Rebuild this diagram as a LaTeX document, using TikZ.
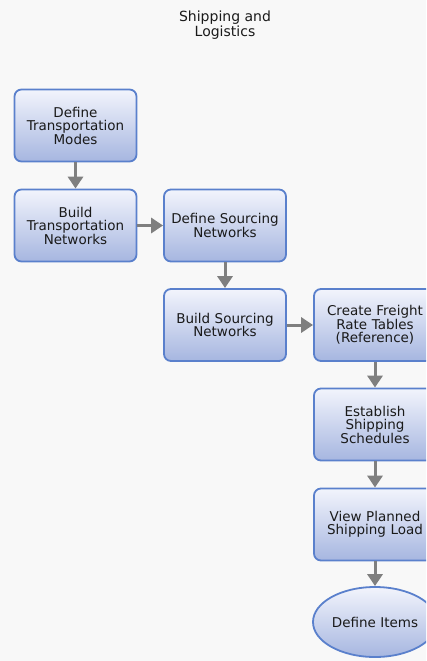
\documentclass[tikz,border=0pt]{standalone}
\usepackage{fontspec}
\setmainfont{DejaVu Sans}
\usetikzlibrary{arrows.meta,shapes.geometric}
\definecolor{bgc}{HTML}{F8F8F8}
\definecolor{edgec}{HTML}{5A80CC}
\definecolor{topc}{HTML}{F2F4FC}
\definecolor{botc}{HTML}{A6B6E0}
\definecolor{arrc}{HTML}{7F7F7F}
\definecolor{txtc}{HTML}{1A1A1A}
\tikzset{
  stepbox/.style={draw=edgec, line width=1.8pt, rounded corners=7pt,
    top color=topc, bottom color=botc, minimum width=122pt, minimum height=72pt,
    text width=120pt, align=center, inner sep=0pt, text=txtc,
    font=\fontsize{13.5}{13.5}\selectfont},
  endoval/.style={ellipse, draw=edgec, line width=1.8pt,
    top color=topc, bottom color=botc, minimum width=124pt, minimum height=70pt,
    inner sep=0pt, align=center, text=txtc, font=\fontsize{13.5}{13.5}\selectfont},
  flow/.style={draw=arrc, line width=3pt, -{Triangle[width=15pt,length=12pt]}},
}
\begin{document}
\begin{tikzpicture}[x=1pt,y=-1pt]
\fill[bgc] (0,0) rectangle (426,661);
\useasboundingbox (0,0) rectangle (426,661);
\clip (0,0) rectangle (426,661);
\node[align=center, text=txtc, font=\fontsize{14}{15.5}\selectfont] (title) at (225,25) {Shipping and\\Logistics};
\node[stepbox] (a) at (75.5,125.5) {Define\\Transportation\\Modes};
\node[stepbox] (b) at (75.5,225.5) {Build\\Transportation\\Networks};
\node[stepbox] (c) at (225,225.5) {Define Sourcing\\Networks};
\node[stepbox] (d) at (225,325) {Build Sourcing\\Networks};
\node[stepbox] (e) at (375,325) {Create Freight\\Rate Tables\\(Reference)};
\node[stepbox] (f) at (375,424.5) {Establish\\Shipping\\Schedules};
\node[stepbox] (g) at (375,524.5) {View Planned\\Shipping Load};
\node[endoval] (h) at (375,622) {Define Items};
\draw[flow] (a) -- (b);
\draw[flow] (b) -- (c);
\draw[flow] (c) -- (d);
\draw[flow] (d) -- (e);
\draw[flow] (e) -- (f);
\draw[flow] (f) -- (g);
\draw[flow] (g) -- (h);
\end{tikzpicture}
\end{document}
